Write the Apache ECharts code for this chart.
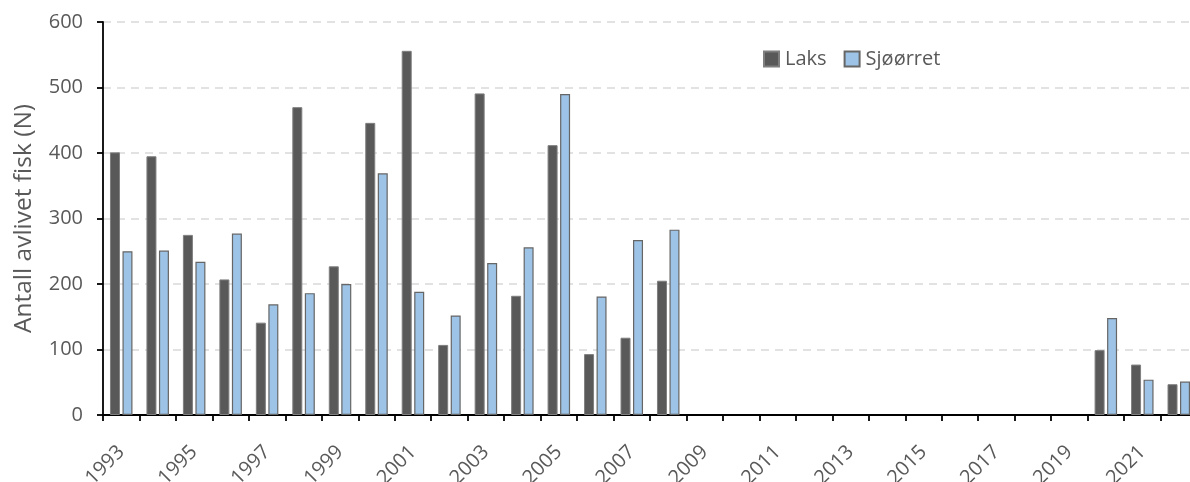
<!DOCTYPE html>
<html>
<head>
<meta charset="utf-8">
<script src="https://cdn.jsdelivr.net/npm/echarts@6/dist/echarts.min.js"></script>
<style>
  html, body { margin: 0; padding: 0; background: #ffffff; }
  #chart { width: 1190px; height: 482px; }
</style>
</head>
<body>
<div id="chart"></div>
<script>
// Years 1993–2022; no registrations 2009–2019
const years = ['1993','1994','1995','1996','1997','1998','1999','2000','2001','2002',
               '2003','2004','2005','2006','2007','2008','2009','2010','2011','2012',
               '2013','2014','2015','2016','2017','2018','2019','2020','2021','2022'];

const laks = [401, 395, 275, 207, 141, 470, 227, 446, 556, 107,
              491, 182, 412, 93, 118, 205, null, null, null, null,
              null, null, null, null, null, null, null, 99, 77, 47];

const sjoorret = [250, 251, 234, 277, 169, 186, 200, 369, 188, 152,
                  232, 256, 490, 181, 267, 283, null, null, null, null,
                  null, null, null, null, null, null, null, 148, 54, 51];

const yTicks = { min: 0, max: 600, step: 100 };

const textColor = '#595959';
const fontFamily = '"Open Sans", "Noto Sans", sans-serif';

const chart = echarts.init(document.getElementById('chart'), null, { renderer: 'canvas' });

chart.setOption({
  animation: false,
  backgroundColor: '#ffffff',
  textStyle: { fontFamily: fontFamily },
  legend: {
    left: 763,
    top: 49,
    padding: 0,
    itemGap: 17,
    itemWidth: 15,
    itemHeight: 15,
    icon: 'rect',
    textStyle: { color: textColor, fontSize: 20, fontFamily: fontFamily, padding: [0, 0, 0, 1] },
    data: ['Laks', 'Sjøørret']
  },
  grid: {
    left: 103,
    top: 22,
    width: 1094,
    height: 393,
    containLabel: false,
    outerBoundsMode: 'none'
  },
  xAxis: {
    type: 'category',
    data: years,
    boundaryGap: true,
    axisLine: { show: true, lineStyle: { color: '#000000', width: 1.8 } },
    axisTick: { show: true, interval: 0, length: 6, alignWithLabel: false,
                lineStyle: { color: '#000000', width: 1.8 } },
    axisLabel: {
      interval: 1,
      rotate: 45,
      margin: 34,
      color: textColor,
      fontSize: 20,
      fontFamily: fontFamily
    },
    splitLine: { show: false }
  },
  yAxis: {
    type: 'value',
    min: yTicks.min,
    max: yTicks.max,
    interval: yTicks.step,
    name: 'Antall avlivet fisk (N)',
    nameLocation: 'middle',
    nameGap: 66,
    nameTextStyle: { color: textColor, fontSize: 24.5, fontFamily: fontFamily },
    axisLine: { show: true, lineStyle: { color: '#000000', width: 1.8 } },
    axisTick: { show: true, length: 6, lineStyle: { color: '#000000', width: 1.8 } },
    axisLabel: { color: textColor, fontSize: 20, margin: 20, fontFamily: fontFamily },
    splitLine: {
      show: true,
      lineStyle: { color: '#D9D9D9', width: 1.5, type: [8, 6] }
    }
  },
  series: [
    {
      name: 'Laks',
      type: 'bar',
      data: laks,
      barWidth: 10,
      barGap: '25%',
      itemStyle: { color: '#595959', borderColor: '#7F7F7F', borderWidth: 1 }
    },
    {
      name: 'Sjøørret',
      type: 'bar',
      data: sjoorret,
      barWidth: 10,
      barGap: '25%',
      itemStyle: { color: '#9DC3E6', borderColor: '#666666', borderWidth: 1.2 }
    }
  ]
});
</script>
</body>
</html>
